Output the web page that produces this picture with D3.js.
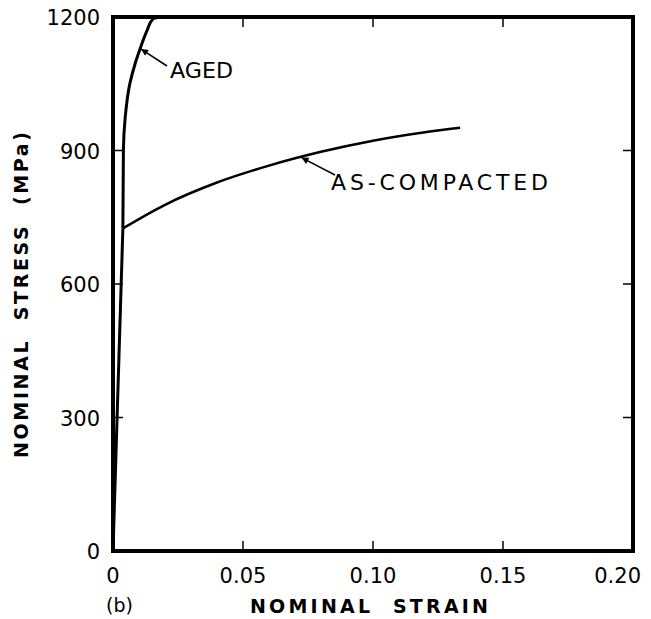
<!DOCTYPE html>
<html>
<head>
<meta charset="utf-8">
<script src="https://cdn.jsdelivr.net/npm/d3@7"></script>
<style>
  body { margin: 0; background: #fff; }
  text { font-family: "DejaVu Sans", sans-serif; fill: #000; }
  .title { white-space: pre; }
</style>
</head>
<body>
<svg id="chart" width="651" height="619"></svg>
<script>
// data (strain, stress in MPa)
const elasticStrain = [0, 0.0038];
const elasticStress = [0, 725];
const agedStrain  = [0.0038, 0.0040, 0.0047, 0.0065, 0.0085, 0.0104, 0.0130, 0.0154, 0.0180];
const agedStress  = [725, 900, 975, 1051, 1095, 1128, 1168, 1196, 1200];
const compStrain  = [0.0038, 0.02, 0.04, 0.06, 0.08, 0.10, 0.12, 0.1335];
const compStress  = [725, 778, 828, 866, 897, 922, 941, 951];
const xTicks = [0, 0.05, 0.10, 0.15, 0.20];
const yTicks = [0, 300, 600, 900, 1200];

const svg = d3.select("#chart");
const margin = { left: 113, right: 18, top: 17, bottom: 68 };
const width = 651, height = 619;

const x = d3.scaleLinear().domain([0, 0.20]).range([margin.left, width - margin.right]);
const y = d3.scaleLinear().domain([0, 1200]).range([height - margin.bottom, margin.top]);

//inward ticks on all four sides
const tickLen = 10;
const g = svg.append("g");
xTicks.slice(1, -1).forEach(t => {
    g.append("line").attr("x1", x(t)).attr("x2", x(t))
        .attr("y1", y(0)).attr("y2", y(0) - tickLen)
        .attr("stroke", "#000").attr("stroke-width", 1.5);
    g.append("line").attr("x1", x(t)).attr("x2", x(t))
        .attr("y1", y(1200)).attr("y2", y(1200) + tickLen)
        .attr("stroke", "#000").attr("stroke-width", 1.5);
});
yTicks.slice(1, -1).forEach(t => {
    g.append("line").attr("x1", x(0)).attr("x2", x(0) + tickLen)
        .attr("y1", y(t)).attr("y2", y(t))
        .attr("stroke", "#000").attr("stroke-width", 1.5);
    g.append("line").attr("x1", x(0.2)).attr("x2", x(0.2) - tickLen)
        .attr("y1", y(t)).attr("y2", y(t))
        .attr("stroke", "#000").attr("stroke-width", 1.5);
});

//tick labels (last one pulled in so it fits)
svg.append("g").selectAll("text").data(xTicks).enter().append("text")
    .attr("x", (d, i) => i === xTicks.length - 1 ? width - 10 : x(d))
    .attr("y", y(0) + 32)
    .attr("text-anchor", (d, i) => i === xTicks.length - 1 ? "end" : "middle")
    .attr("font-size", 21)
    .text(d => d === 0 ? "0" : d.toFixed(2));

svg.append("g").selectAll("text").data(yTicks).enter().append("text")
    .attr("x", x(0) - 13).attr("y", d => y(d) + 8)
    .attr("text-anchor", "end").attr("font-size", 21)
    .text(d => d);

//curves
const toPts = (xs, ys) => xs.map((s, i) => [s, ys[i]]);
const lineLin = d3.line().x(d => x(d[0])).y(d => y(d[1]));
const lineY = d3.line().x(d => x(d[0])).y(d => y(d[1])).curve(d3.curveMonotoneY);
const lineX = d3.line().x(d => x(d[0])).y(d => y(d[1])).curve(d3.curveMonotoneX);

svg.append("path")
    .attr("d", lineLin(toPts(elasticStrain, elasticStress)))
    .attr("fill", "none").attr("stroke", "#000").attr("stroke-width", 3);

svg.append("path")
    .attr("d", lineY(toPts(agedStrain, agedStress)))
    .attr("fill", "none").attr("stroke", "#000").attr("stroke-width", 3)
    .attr("stroke-linejoin", "round");

svg.append("path")
    .attr("d", lineX(toPts(compStrain, compStress)))
    .attr("fill", "none").attr("stroke", "#000").attr("stroke-width", 2.5);

//frame
svg.append("rect")
    .attr("x", x(0)).attr("y", y(1200))
    .attr("width", x(0.2) - x(0)).attr("height", y(0) - y(1200))
    .attr("fill", "none").attr("stroke", "#000").attr("stroke-width", 4);

//annotations with arrows
svg.append("defs").append("marker")
    .attr("id", "arr").attr("viewBox", "0 0 10 10")
    .attr("refX", 10).attr("refY", 5)
    .attr("markerWidth", 10).attr("markerHeight", 7)
    .attr("markerUnits", "userSpaceOnUse")
    .attr("orient", "auto")
    .append("path").attr("d", "M0,0 L10,5 L0,10 Z").attr("fill", "#000");

svg.append("line")
    .attr("x1", 167).attr("y1", 66).attr("x2", x(0.0108)).attr("y2", y(1128))
    .attr("stroke", "#000").attr("stroke-width", 1.5).attr("marker-end", "url(#arr)");
svg.append("text").attr("x", 170).attr("y", 78).attr("font-size", 22)
    .attr("textLength", 63).attr("lengthAdjust", "spacingAndGlyphs").text("AGED");

svg.append("line")
    .attr("x1", 335).attr("y1", 175).attr("x2", x(0.0725)).attr("y2", y(884))
    .attr("stroke", "#000").attr("stroke-width", 1.5).attr("marker-end", "url(#arr)");
svg.append("text").attr("x", 331).attr("y", 190).attr("font-size", 22)
    .attr("textLength", 217).attr("lengthAdjust", "spacing").text("AS-COMPACTED");

//axis titles
svg.append("text").attr("class", "title").attr("x", 250).attr("y", 613)
    .attr("font-size", 19).attr("font-weight", "bold")
    .attr("textLength", 238).attr("lengthAdjust", "spacing").text("NOMINAL  STRAIN");

svg.append("text").attr("class", "title").attr("transform", "translate(28,458) rotate(-90)")
    .attr("font-size", 19).attr("font-weight", "bold")
    .attr("textLength", 326).attr("lengthAdjust", "spacing").text("NOMINAL  STRESS  (MPa)");

svg.append("text").attr("x", 106).attr("y", 612).attr("font-size", 19).text("(b)");
</script>
</body>
</html>
